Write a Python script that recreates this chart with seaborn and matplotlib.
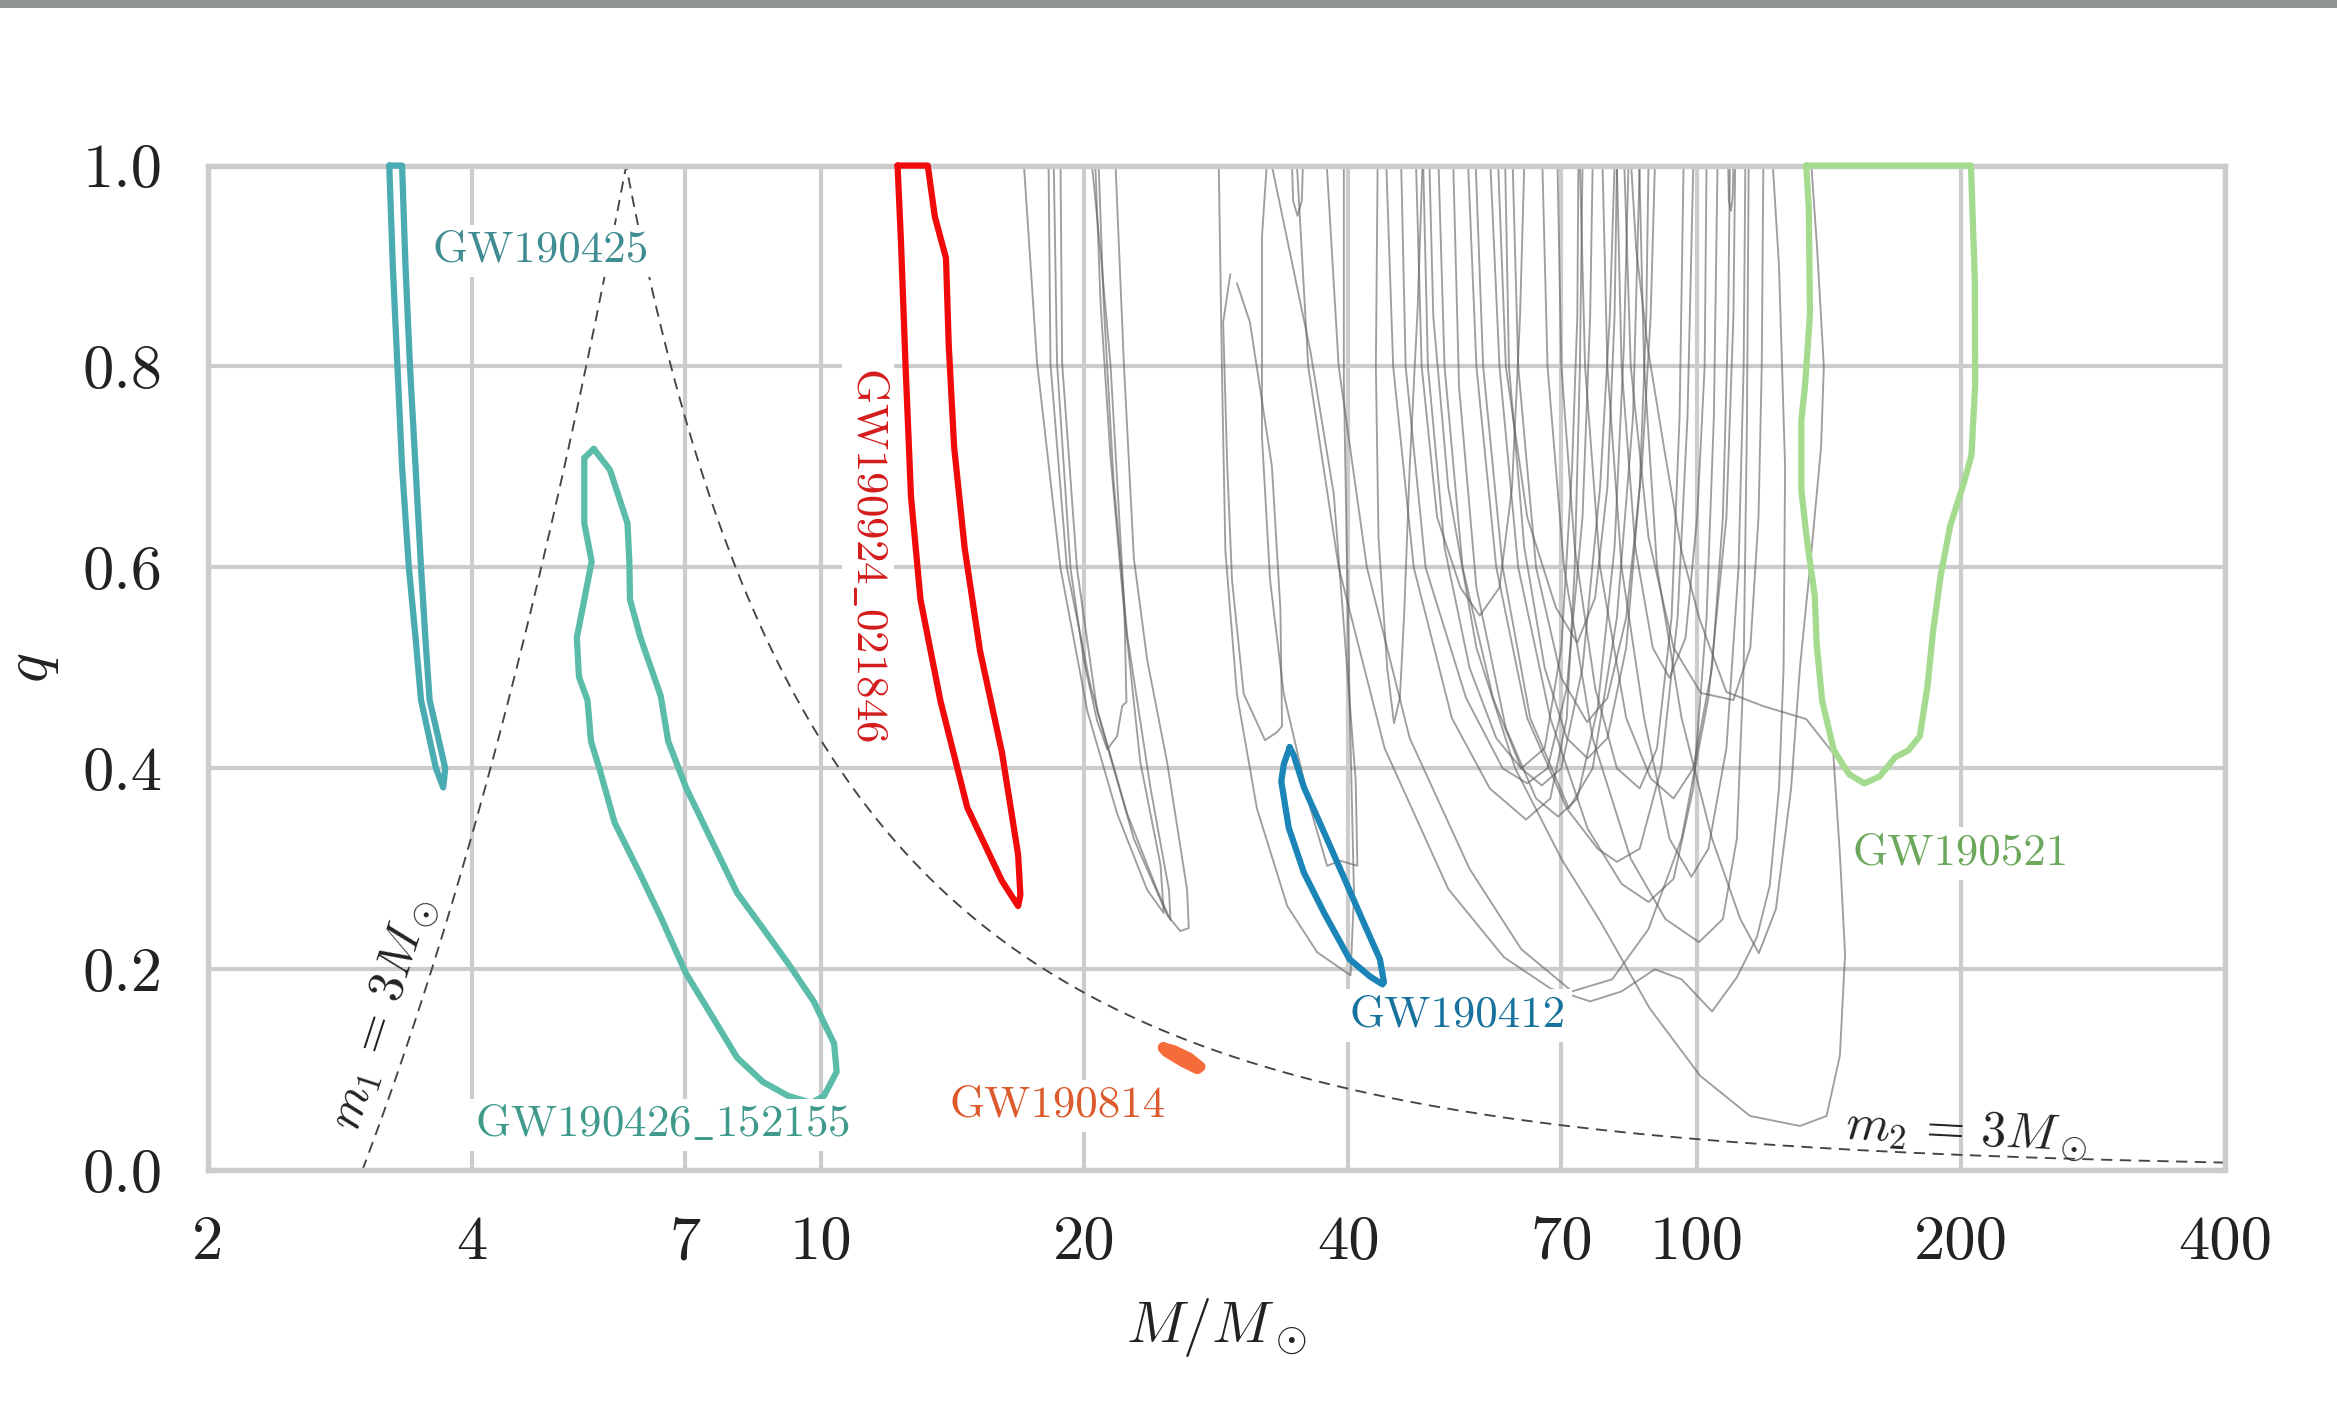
import numpy as np
import pandas as pd
import matplotlib
matplotlib.use("Agg")
import matplotlib.pyplot as plt
import seaborn as sns
from matplotlib.patches import Rectangle
from matplotlib.ticker import NullLocator

# highlighted events: 90% contours in total mass M and mass ratio q
gw190425_M = [3.22, 3.25, 3.29, 3.33, 3.39, 3.45, 3.50, 3.64, 3.71, 3.73, 3.58, 3.54, 3.50, 3.45, 3.40, 3.36, 3.33]
gw190425_q = [1.0, 0.9, 0.8, 0.7, 0.6, 0.53, 0.468, 0.40, 0.381, 0.40, 0.468, 0.53, 0.6, 0.7, 0.8, 0.9, 1.0]

gw190426_M = [5.51, 5.75, 6.02, 6.05, 6.06, 6.23, 6.57, 6.70, 7.02, 7.51, 8.03, 8.59, 9.18, 9.82, 10.36, 10.43,
              10.09, 9.76, 9.18, 8.59, 8.03, 7.51, 7.02, 6.57, 6.23, 5.82, 5.60, 5.47, 5.42, 5.30, 5.27, 5.375,
              5.48, 5.375, 5.375]
gw190426_q = [0.718, 0.697, 0.644, 0.606, 0.568, 0.530, 0.472, 0.427, 0.381, 0.328, 0.276, 0.241, 0.206, 0.168,
              0.126, 0.098, 0.074, 0.067, 0.074, 0.088, 0.112, 0.154, 0.196, 0.252, 0.294, 0.346, 0.398, 0.427,
              0.468, 0.491, 0.530, 0.568, 0.606, 0.644, 0.709]

gw190924_M = [12.24, 12.35, 12.5, 12.68, 13.0, 13.7, 14.7, 16.1, 16.8, 16.9, 16.8, 16.1, 15.2, 14.6, 14.2, 14.0,
              13.9, 13.5, 13.25]
gw190924_q = [1.0, 0.924, 0.800, 0.670, 0.568, 0.467, 0.361, 0.288, 0.263, 0.274, 0.314, 0.416, 0.517, 0.619,
              0.720, 0.822, 0.908, 0.949, 1.0]

gw190814_M = [24.6, 25.3, 26.3, 27.1, 26.9, 25.9, 24.8]
gw190814_q = [0.122, 0.119, 0.112, 0.103, 0.101, 0.108, 0.118]

gw190412_M = [34.29, 33.76, 33.54, 34.20, 35.60, 37.54, 40.13, 42.32, 43.75, 43.92, 43.46, 41.76, 39.60, 37.54,
              35.60, 34.66]
gw190412_q = [0.421, 0.404, 0.387, 0.341, 0.296, 0.256, 0.210, 0.193, 0.185, 0.187, 0.210, 0.244, 0.290, 0.336,
              0.381, 0.413]

gw190521_M = [133.2, 134.1, 134.5, 132.8, 131.5, 131.5, 133.4, 136.2, 136.9, 138.9, 143.2, 149.1, 155.2, 161.6,
              168.2, 174.2, 179.5, 183.1, 185.9, 189.7, 194.5, 201.5, 205.6, 207.6, 207.4, 205.3]
gw190521_q = [1.0, 0.957, 0.852, 0.782, 0.747, 0.677, 0.628, 0.572, 0.523, 0.467, 0.418, 0.394, 0.385, 0.392,
              0.411, 0.418, 0.432, 0.481, 0.537, 0.593, 0.642, 0.684, 0.712, 0.782, 0.887, 1.0]

# the other events, drawn thin and grey
gray_M = [
    [17.06, 17.66, 18.78, 20.15, 21.79, 23.58, 24.63, 24.42, 23.16, 22.18, 21.41, 20.86, 20.58],
    [18.20, 18.29, 19.10, 20.32, 22.37, 24.20, 25.07, 24.97, 23.78, 22.37, 21.59, 21.03, 20.76],
    [18.45, 18.61, 19.28, 19.96, 20.68, 21.23, 21.79, 22.08, 22.33, 22.21, 21.88, 21.41, 20.86, 20.40],
    [18.78, 18.86, 19.61, 20.68, 22.77, 24.85, 25.73, 26.30, 26.19, 24.85, 23.58, 22.77, 22.18, 21.70],
    [28.46, 28.71, 28.96, 29.85, 31.46, 34.07, 36.85, 40.23, 40.60, 40.05, 39.53, 39.53],
    [29.34, 28.79, 29.10, 29.47, 30.39, 32.14, 33.16, 33.61, 33.46, 32.72, 30.89, 29.85],
    [32.28, 31.88, 31.88, 32.57, 33.76, 36.21, 37.83, 39.17, 40.96, 40.78, 38.50, 36.21, 32.72],
    [43.2, 43.0, 43.3, 44.3, 45.1, 45.8, 46.3, 47.0, 48.0, 48.6],
    [34.5, 34.6, 35.0, 35.4, 35.5],
    [108.5, 108.7, 109.3, 109.8, 110.0],
    [47.79, 48.5, 50.5, 53.7, 56.5, 59.5, 61.5, 62.8, 63.5],
    [45.96, 46.5, 49.0, 54.5, 60.0, 64.0, 67.5, 71.0, 74.0, 75.5, 76.0],
    [50.7, 51.5, 54.0, 58.5, 63.0, 66.5, 70.0, 74.0, 77.5, 79.5, 80.5],
    [52.7, 53.5, 56.0, 60.5, 65.5, 69.4, 73.0, 77.0, 80.5, 82.5, 83.5],
    [55.9, 57.0, 60.0, 64.5, 71.4, 76.0, 81.0, 84.5, 86.0],
    [44.2, 45.0, 47.5, 52.5, 58.0, 63.8, 68.0, 71.0, 72.5, 73.5, 74.0],
    [59.3, 60.5, 64.0, 69.0, 73.0, 76.5, 79.0, 80.5, 81.0],
    [61.6, 62.5, 65.5, 70.0, 74.9, 79.0, 83.0, 86.5, 88.5, 89.5],
    [54.8, 56.0, 59.0, 64.0, 71.0, 77.0, 81.0, 86.0, 91.0, 95.0, 97.5, 99.0],
    [58.1, 59.5, 62.5, 68.0, 75.0, 82.0, 88.0, 94.0, 99.0, 102.5, 104.5, 105.5],
    [73.5, 74.5, 77.5, 83.0, 88.5, 94.0, 99.0, 104.0, 107.0, 108.5, 109.0],
    [66.6, 67.5, 70.5, 76.0, 84.0, 92.0, 100.5, 107.0, 111.0, 113.0, 114.0, 114.5],
    [82.6, 84.0, 88.0, 94.0, 101.0, 110.0, 115.0, 117.5, 118.5, 119.0],
    [78.0, 79.0, 82.0, 87.0, 93.0, 98.5, 103.0, 108.0, 111.5, 113.0, 113.5],
    [34.95, 36.0, 39.0, 44.0, 52.0, 60.2, 68.0, 75.5, 82.0, 89.5, 96.0, 104.0, 111.0, 117.0, 121.0, 124.0,
     125.5, 126.0, 124.0, 122.0],
    [49.5, 50.0, 52.0, 56.0, 62.0, 70.0, 77.5, 88.3, 100.8, 114.9, 131.0, 140.5, 145.5, 147.5, 145.5, 143.0,
     133.2, 118.9, 108.0, 100.6, 96.0, 91.8, 87.9, 85.2, 84.1],
    [37.8, 39.0, 42.0, 47.0, 55.0, 63.0, 72.0, 80.0, 88.0, 96.0, 103.0, 108.0, 110.0, 110.5],
    [60.4, 61.0, 63.5, 67.0, 71.0, 75.0, 79.0, 83.0, 86.0, 87.5, 88.0],
    [69.3, 70.0, 72.5, 76.5, 81.0, 86.0, 90.0, 93.5, 95.5, 96.5],
    [81.0, 82.0, 85.0, 89.0, 93.0, 97.0, 100.0, 102.0, 102.5],
    [48.7, 49.3, 51.5, 55.0, 59.0, 63.0, 67.0, 70.0, 72.0, 73.0, 73.2],
    [85.9, 87.0, 90.0, 96.0, 104.0, 112.0, 117.6, 123.0, 128.0, 131.0, 134.5, 138.5, 139.5, 137.0, 135.0],
]
gray_q = [
    [1.0, 0.803, 0.599, 0.457, 0.355, 0.279, 0.256, 0.304, 0.406, 0.559, 0.711, 0.864, 1.0],
    [1.0, 0.803, 0.599, 0.482, 0.355, 0.279, 0.249, 0.279, 0.381, 0.533, 0.686, 0.864, 1.0],
    [1.0, 0.803, 0.599, 0.508, 0.447, 0.419, 0.432, 0.462, 0.466, 0.559, 0.660, 0.803, 0.914, 1.0],
    [1.0, 0.803, 0.599, 0.457, 0.330, 0.254, 0.238, 0.241, 0.279, 0.406, 0.508, 0.609, 0.803, 1.0],
    [1.0, 0.787, 0.616, 0.474, 0.360, 0.263, 0.217, 0.194, 0.274, 0.502, 0.787, 1.0],
    [0.892, 0.844, 0.701, 0.587, 0.474, 0.428, 0.436, 0.442, 0.559, 0.701, 0.844, 0.883],
    [1.0, 0.929, 0.730, 0.587, 0.474, 0.360, 0.303, 0.308, 0.303, 0.388, 0.673, 0.815, 1.0],
    [1.0, 0.8, 0.63, 0.50, 0.445, 0.47, 0.55, 0.70, 0.86, 1.0],
    [1.0, 0.965, 0.95, 0.965, 1.0],
    [1.0, 0.965, 0.955, 0.97, 1.0],
    [1.0, 0.80, 0.65, 0.58, 0.552, 0.58, 0.68, 0.85, 1.0],
    [1.0, 0.8, 0.6, 0.47, 0.40, 0.385, 0.40, 0.48, 0.65, 0.85, 1.0],
    [1.0, 0.8, 0.6, 0.47, 0.40, 0.383, 0.40, 0.50, 0.68, 0.85, 1.0],
    [1.0, 0.78, 0.58, 0.44, 0.37, 0.352, 0.37, 0.46, 0.62, 0.82, 1.0],
    [1.0, 0.8, 0.6, 0.45, 0.36, 0.40, 0.55, 0.75, 1.0],
    [1.0, 0.8, 0.6, 0.45, 0.38, 0.349, 0.37, 0.45, 0.6, 0.8, 1.0],
    [1.0, 0.8, 0.65, 0.56, 0.525, 0.57, 0.68, 0.85, 1.0],
    [1.0, 0.8, 0.6, 0.49, 0.446, 0.47, 0.55, 0.70, 0.85, 1.0],
    [1.0, 0.8, 0.6, 0.45, 0.36, 0.32, 0.307, 0.32, 0.40, 0.55, 0.75, 1.0],
    [1.0, 0.8, 0.6, 0.45, 0.34, 0.285, 0.267, 0.29, 0.38, 0.55, 0.75, 1.0],
    [1.0, 0.8, 0.6, 0.45, 0.39, 0.37, 0.40, 0.5, 0.65, 0.85, 1.0],
    [1.0, 0.8, 0.6, 0.43, 0.31, 0.25, 0.227, 0.25, 0.33, 0.5, 0.75, 1.0],
    [1.0, 0.8, 0.63, 0.52, 0.475, 0.468, 0.52, 0.65, 0.8, 1.0],
    [1.0, 0.8, 0.6, 0.45, 0.33, 0.292, 0.32, 0.42, 0.6, 0.8, 1.0],
    [1.0, 0.8, 0.6, 0.42, 0.28, 0.212, 0.181, 0.168, 0.178, 0.20, 0.19, 0.158, 0.192, 0.232, 0.283, 0.38,
     0.5, 0.7, 0.9, 1.0],
    [1.0, 0.85, 0.68, 0.52, 0.40, 0.31, 0.248, 0.161, 0.094, 0.054, 0.044, 0.054, 0.114, 0.215, 0.315, 0.415,
     0.449, 0.462, 0.476, 0.549, 0.616, 0.716, 0.817, 0.917, 1.0],
    [1.0, 0.8, 0.6, 0.43, 0.30, 0.22, 0.178, 0.19, 0.24, 0.33, 0.47, 0.65, 0.85, 1.0],
    [1.0, 0.8, 0.62, 0.50, 0.43, 0.41, 0.43, 0.52, 0.68, 0.85, 1.0],
    [1.0, 0.8, 0.62, 0.48, 0.40, 0.38, 0.42, 0.55, 0.75, 1.0],
    [1.0, 0.8, 0.62, 0.52, 0.49, 0.53, 0.65, 0.8, 1.0],
    [1.0, 0.8, 0.62, 0.50, 0.43, 0.40, 0.42, 0.52, 0.7, 0.85, 1.0],
    [1.0, 0.8, 0.6, 0.45, 0.33, 0.25, 0.216, 0.26, 0.38, 0.50, 0.60, 0.72, 0.80, 0.92, 1.0],
]

event_names = ["GW190425", "GW190426_152155", "GW190924_021846", "GW190814", "GW190412", "GW190521"]
event_M = [gw190425_M, gw190426_M, gw190924_M, gw190814_M, gw190412_M, gw190521_M]
event_q = [gw190425_q, gw190426_q, gw190924_q, gw190814_q, gw190412_q, gw190521_q]
line_colors = ["#4aabb2", "#5bbcaa", "#f00a0a", "#f56c3a", "#1a85b6", "#a4db8e"]
text_colors = ["#3f8c92", "#3f9a8c", "#d41c1c", "#dc5a2c", "#17729d", "#6ca85c"]
line_widths = [1.5, 1.5, 1.5, 2.6, 1.5, 1.5]
# label anchor (M, q), rotation
label_M = [3.61, 4.03, 11.32, 14.04, 40.1, 150.4]
label_q = [0.915, 0.045, 0.613, 0.064, 0.154, 0.315]
label_rot = [0, 0, -90, 0, 0, 0]

m_limit = 3.0  # solar masses, for the m1 and m2 guide lines

x_ticks = [2, 4, 7, 10, 20, 40, 70, 100, 200, 400]
y_ticks = [0.0, 0.2, 0.4, 0.6, 0.8, 1.0]

sns.set_theme(style="whitegrid")
plt.rcParams.update({
    "font.family": "serif",
    "font.serif": ["cmr10"],
    "mathtext.fontset": "cm",
    "axes.unicode_minus": False,
    "axes.formatter.use_mathtext": True,
})

fig, ax = plt.subplots(figsize=(2337 / 300, 1415 / 300), dpi=300)
fig.subplots_adjust(left=0.089, right=0.952, top=0.883, bottom=0.173)
ax.set_xscale("log")

# grey contours
rows = []
for i, (ms, qs) in enumerate(zip(gray_M, gray_q)):
    for j, (m, q) in enumerate(zip(ms, qs)):
        rows.append({"M": m, "q": q, "contour": i, "order": j})
gray_df = pd.DataFrame(rows)
sns.lineplot(data=gray_df, x="M", y="q", units="contour", estimator=None, sort=False,
             color="#5e5e5e", alpha=0.6, lw=0.45, ax=ax, legend=False)

# guide lines m1 = 3 and m2 = 3
q1 = np.linspace(0, 1, 100)
ax.plot(m_limit * (1 + q1), q1, ls=(0, (6, 4)), lw=0.45, color="#444444", zorder=2)
q2 = np.linspace(m_limit / (400 - m_limit), 1, 400)
ax.plot(m_limit * (1 + q2) / q2, q2, ls=(0, (6, 4)), lw=0.45, color="#444444", zorder=2)

# highlighted events
for ms, qs, c, w in zip(event_M, event_q, line_colors, line_widths):
    ms_closed = list(ms) + [ms[0]]
    qs_closed = list(qs) + [qs[0]]
    sns.lineplot(x=ms_closed, y=qs_closed, sort=False, estimator=None, color=c, lw=w,
                 ax=ax, zorder=4, clip_on=False, solid_joinstyle="round", solid_capstyle="round")

for name, m, q, rot, c in zip(event_names, label_M, label_q, label_rot, text_colors):
    txt = name.replace("_", r"$\_$")
    ha = "left" if rot == 0 else "center"
    ax.text(m, q, txt, color=c, fontsize=10.8, ha=ha, va="center", rotation=rot, zorder=5,
            bbox=dict(facecolor="white", edgecolor="none", pad=1.5))

ax.text(3.17, 0.156, r"$m_1\,=\,3M_\odot$", fontsize=12, rotation=72, ha="center", va="center",
        color="#222222", zorder=5)
ax.text(203, 0.037, r"$m_2\,=\,3M_\odot$", fontsize=12, rotation=-3, ha="center", va="center",
        color="#222222", zorder=5)

ax.set_xlim(2, 400)
ax.set_ylim(0, 1)
ax.set_xticks(x_ticks)
ax.set_xticklabels([str(t) for t in x_ticks])
ax.xaxis.set_minor_locator(NullLocator())
ax.set_yticks(y_ticks)
ax.set_yticklabels([f"{t:.1f}" for t in y_ticks])
ax.tick_params(axis="both", labelsize=15, pad=11, length=0, colors="#222222")
ax.grid(True, color="#cccccc", lw=1.0)
for sp in ax.spines.values():
    sp.set_color("#cccccc")
    sp.set_linewidth(1.3)

ax.set_xlabel(r"$M/M_\odot$", fontsize=14, color="#222222")
ax.xaxis.set_label_coords(0.5, -0.125)
ax.set_ylabel(r"$q$", fontsize=15, color="#222222")
ax.yaxis.set_label_coords(-0.073, 0.5)

# grey band across the top of the page
fig.add_artist(Rectangle((0, 1 - 8 / 1415), 1, 8 / 1415, transform=fig.transFigure,
                         facecolor="#909595", edgecolor="none"))

fig.savefig("out.png", dpi=300)
